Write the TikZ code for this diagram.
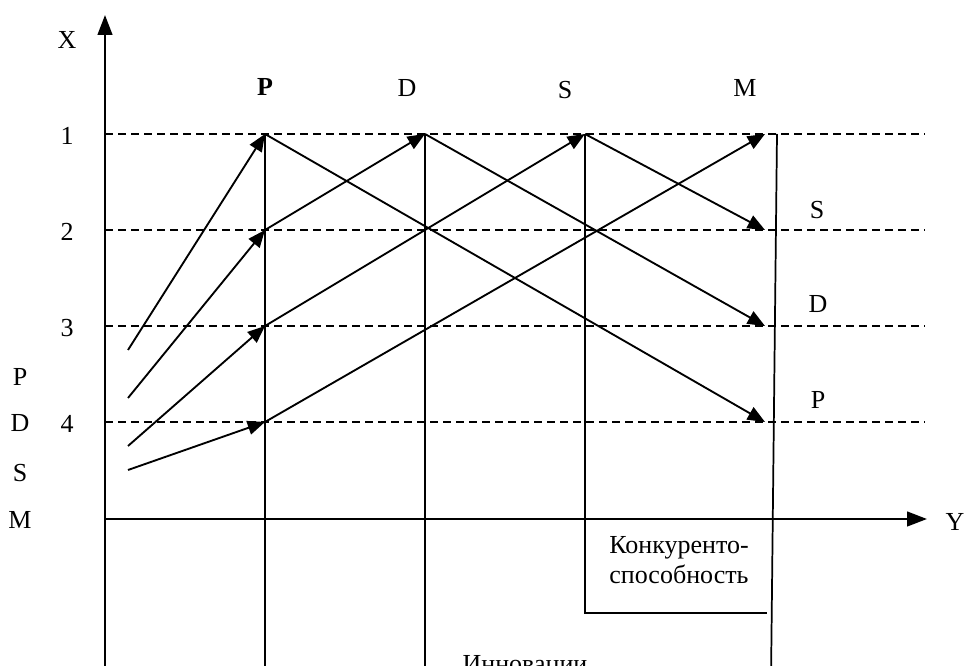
\documentclass[tikz,border=0pt]{standalone}
\usepackage{fontspec}
\setmainfont{Liberation Serif}
\usetikzlibrary{arrows.meta}
\begin{document}
\begin{tikzpicture}[x=0.75pt,y=-0.75pt,
    line width=1.3pt,
    font=\fontsize{19.5}{22.5}\selectfont,
    row/.style={dash pattern=on 6pt off 3.75pt, line width=1.5pt},
    arr/.style={line width=1.4pt,-{Triangle[length=13pt,width=10.5pt]}},
    axis/.style={line width=1.8pt,-{Triangle[length=15pt,width=11pt]}},
    lbl/.style={inner sep=0pt}]
    \newcommand{\colP}{265}
    \newcommand{\colD}{425}
    \newcommand{\colS}{585}
    \newcommand{\colM}{765}
    \useasboundingbox (0,0) rectangle (965,666);
    \clip (0,0) rectangle (965,666);
    % axes
    \coordinate (o) at (105,519);
    \coordinate (xtop) at (105,15);
    \coordinate (obot) at (105,680);
    \coordinate (yend) at (927,519);
    \draw[axis] (o) -- (xtop);
    \draw[axis] (o) -- (yend);
    \draw (o) -- (obot);
    \node[lbl] (xlab) at (67,40) {X};
    \node[lbl] (ylab) at (955,522) {Y};
    % levels 1..4
    \foreach \i/\y in {1/134,2/230,3/326,4/422}{
        \coordinate (r\i) at (105,\y);
        \coordinate (re\i) at (925,\y);
        \draw[row] (r\i) -- (re\i);
        \node[lbl] (n\i) at (67,\y+2) {\i};
    }
    % points
    \coordinate (p1) at (\colP,134);
    \coordinate (p2) at (\colP,230);
    \coordinate (p3) at (\colP,326);
    \coordinate (p4) at (\colP,422);
    \coordinate (d1) at (\colD,134);
    \coordinate (s1) at (\colS,134);
    \coordinate (m1) at (\colM,134);
    \coordinate (m2) at (\colM,230);
    \coordinate (m3) at (\colM,326);
    \coordinate (m4) at (\colM,422);
    \coordinate (a1) at (128,350);
    \coordinate (a2) at (128,398);
    \coordinate (a3) at (128,446);
    \coordinate (a4) at (128,470);
    % arrows
    \draw[arr] (a1) -- (p1);
    \draw[arr] (a2) -- (p2);
    \draw[arr] (a3) -- (p3);
    \draw[arr] (a4) -- (p4);
    \draw[arr] (p2) -- (d1);
    \draw[arr] (p3) -- (s1);
    \draw[arr] (p4) -- (m1);
    \draw[arr] (p1) -- (m4);
    \draw[arr] (d1) -- (m3);
    \draw[arr] (s1) -- (m2);
    % verticals
    \coordinate (pb) at (\colP,680);
    \coordinate (db) at (\colD,680);
    \coordinate (sb) at (\colS,613);
    \coordinate (sr) at (767,613);
    \coordinate (mt) at (777,134);
    \coordinate (mb) at (771,680);
    \draw (p1) -- (pb);
    \draw (d1) -- (db);
    \draw (s1) -- (sb) -- (sr);
    \draw (mt) -- (mb);
    % labels
    \node[lbl] (tp) at (265,87) {\textbf{P}};
    \node[lbl] (td) at (407,88) {D};
    \node[lbl] (ts) at (565,90) {S};
    \node[lbl] (tm) at (745,88) {M};
    \node[lbl] (rs) at (817,210) {S};
    \node[lbl] (rd) at (818,304) {D};
    \node[lbl] (rp) at (818,400) {P};
    \node[lbl] (lp) at (20,377) {P};
    \node[lbl] (ld) at (20,423) {D};
    \node[lbl] (ls) at (20,473) {S};
    \node[lbl] (lm) at (20,520) {M};
    \node[lbl,align=center] (konk) at (679,560) {Конкуренто-\\способность};
    \node[lbl,anchor=north] (innov) at (525,655) {Инновации};
\end{tikzpicture}
\end{document}
